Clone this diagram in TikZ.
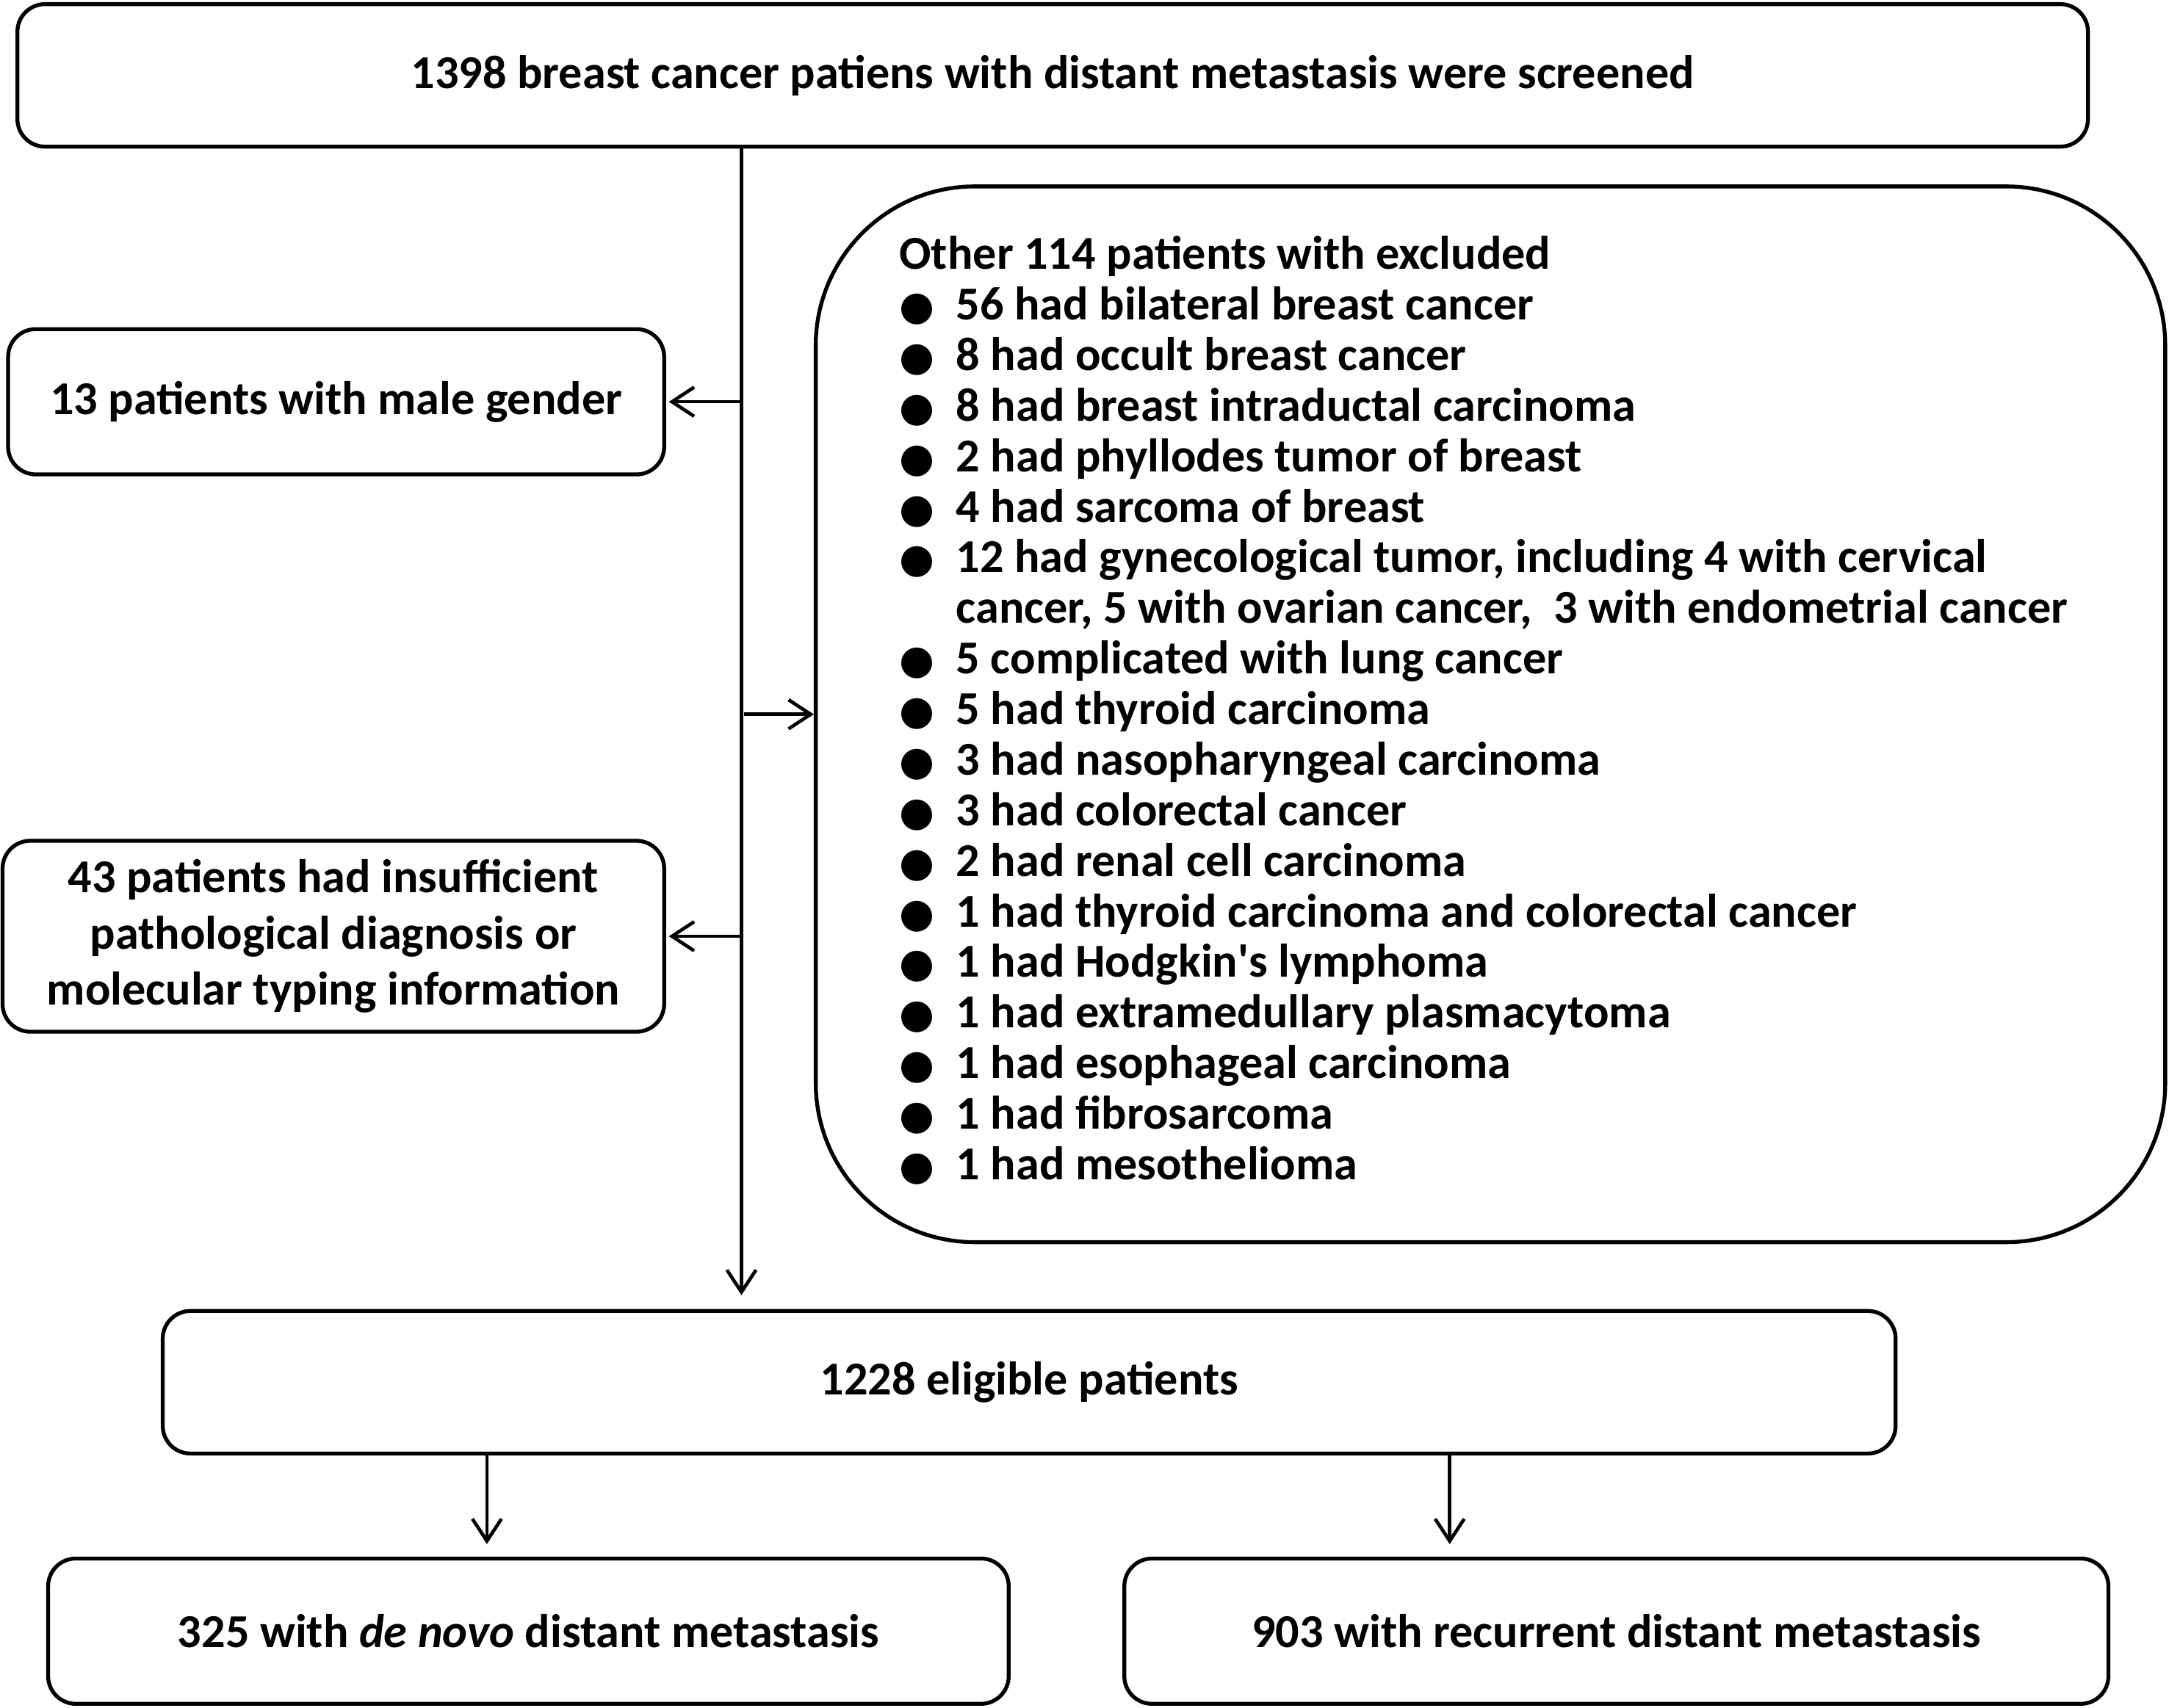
\documentclass[tikz,border=0pt]{standalone}
\usepackage{fontspec}
\setmainfont{Carlito}
\newfontfamily\aposfont{Carlito}
\newfontfamily\dotfont{DejaVu Sans}
\usetikzlibrary{arrows.meta}
\tikzset{%
  arr/.style = {-{Straight Barb[length=1.6mm,width=2.1mm]},line width=0.7pt},
  box/.style = {rectangle,draw,line width=0.8pt,rounded corners=0.2cm,
        align=center,inner sep=0pt},
  listbox/.style = {box,rounded corners=1.15cm}
}
\newcommand{\bul}{{\dotfont\fontsize{8.3}{10}\selectfont ●}}
\newcommand{\apos}{{\aposfont '}}

\begin{document}
\begin{tikzpicture}[x=0.01cm,y=-0.01cm,
        font=\fontsize{9.7}{10.4}\selectfont\bfseries]
    \useasboundingbox (0,0) rectangle (1568,1235);
    % boxes
    \node[box,minimum width=14.96cm,minimum height=1.03cm] (top) at (761,54.5)
        {1398 breast cancer patiens with distant metastasis were screened};
    \node[box,minimum width=4.74cm,minimum height=1.05cm] (male) at (243,290.5)
        {13 patients with male gender};
    \node[box,minimum width=4.78cm,minimum height=1.38cm,
        font=\fontsize{9.7}{11.6}\selectfont\bfseries] (insuff) at (241,677)
        {43 patients had insufficient\\pathological diagnosis or\\molecular typing information};
    \node[listbox,minimum width=9.75cm,minimum height=7.63cm] (other) at (1077.5,516.5)
        {\begin{tabular}{@{}p{0.41cm}@{}l@{\hspace{0.1cm}}}
          \multicolumn{2}{@{}l@{\hspace{0.1cm}}}{Other 114 patients with excluded}\\
          \bul & 56 had bilateral breast cancer\\
          \bul & 8 had occult breast cancer\\
          \bul & 8 had breast intraductal carcinoma\\
          \bul & 2 had phyllodes tumor of breast\\
          \bul & 4 had sarcoma of breast\\
          \bul & 12 had gynecological tumor, including 4 with cervical\\
               & cancer, 5 with ovarian cancer, \ 3 with endometrial cancer\\
          \bul & 5 complicated with lung cancer\\
          \bul & 5 had thyroid carcinoma\\
          \bul & 3 had nasopharyngeal carcinoma\\
          \bul & 3 had colorectal cancer\\
          \bul & 2 had renal cell carcinoma\\
          \bul & 1 had thyroid carcinoma and colorectal cancer\\
          \bul & 1 had Hodgkin\apos s lymphoma\\
          \bul & 1 had extramedullary plasmacytoma\\
          \bul & 1 had esophageal carcinoma\\
          \bul & 1 had fibrosarcoma\\
          \bul & 1 had mesothelioma
        \end{tabular}};
    \node[box,minimum width=12.52cm,minimum height=1.03cm] (elig) at (744,999.5)
        {1228 eligible patients};
    \node[box,minimum width=6.94cm,minimum height=1.05cm] (denovo) at (382,1179.5)
        {325 with \textit{de novo} distant metastasis};
    \node[box,minimum width=7.11cm,minimum height=1.05cm] (recur) at (1168.5,1179.5)
        {903 with recurrent distant metastasis};
    % connectors
    \coordinate (trunk) at (536,0);
    \coordinate (lsplit) at (352,0);
    \coordinate (rsplit) at (1048,0);
    \draw[arr,shorten >=0.1cm] (top.south -| trunk) -- (elig.north -| trunk);
    \draw[arr,shorten >=0.02cm] (male.east -| trunk) -- (male.east);
    \draw[arr,shorten >=0.02cm] (insuff.east -| trunk) -- (insuff.east);
    \draw[arr] ([xshift=0.02cm]other.west -| trunk) -- (other.west);
    \draw[arr,shorten >=0.09cm] (elig.south -| lsplit) -- (denovo.north -| lsplit);
    \draw[arr,shorten >=0.09cm] (elig.south -| rsplit) -- (recur.north -| rsplit);
\end{tikzpicture}
\end{document}
